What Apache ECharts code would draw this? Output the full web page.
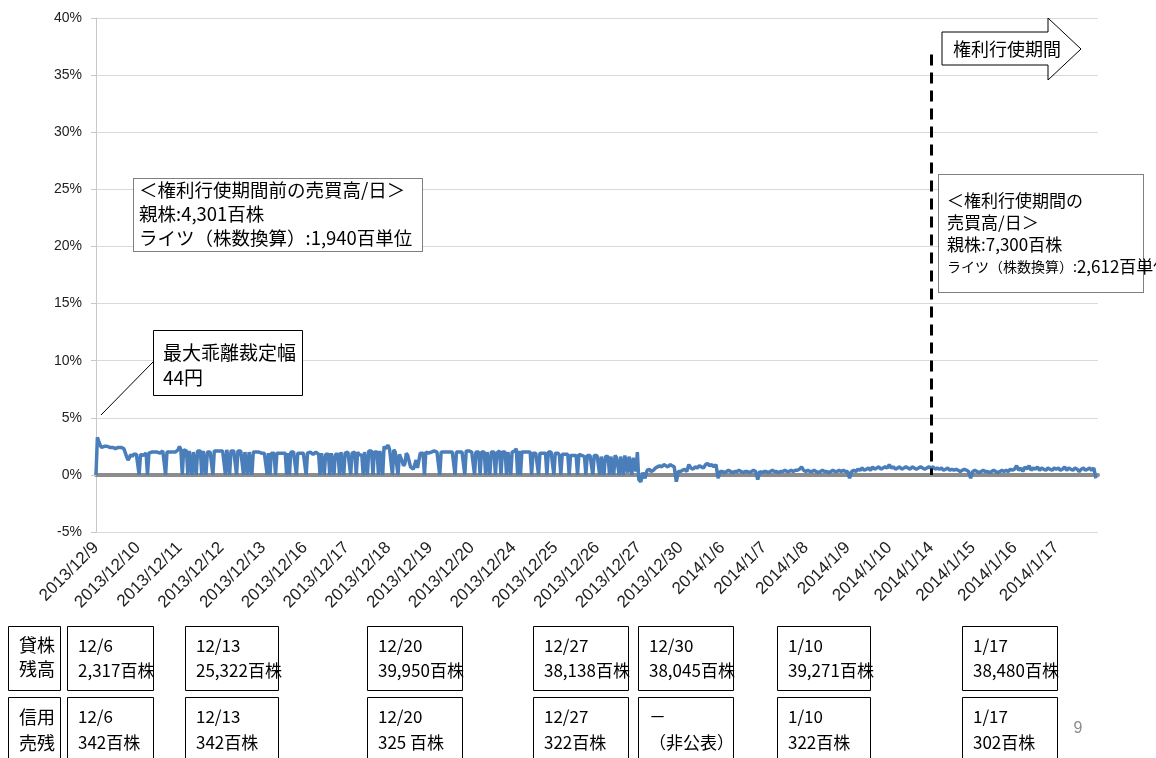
<!DOCTYPE html>
<html>
<head>
<meta charset="utf-8">
<script src="https://cdn.jsdelivr.net/npm/echarts@6/dist/echarts.min.js"></script>
<style>
  html, body { margin: 0; padding: 0; background: #fff; }
  #chart { width: 1156px; height: 758px; }
</style>
</head>
<body>
<div id="chart"></div>
<script>
// Trading days on the horizontal axis
const dayLabels = [
  '2013/12/9', '2013/12/10', '2013/12/11', '2013/12/12', '2013/12/13',
  '2013/12/16', '2013/12/17', '2013/12/18', '2013/12/19', '2013/12/20',
  '2013/12/24', '2013/12/25', '2013/12/26', '2013/12/27', '2013/12/30',
  '2014/1/6', '2014/1/7', '2014/1/8', '2014/1/9', '2014/1/10',
  '2014/1/14', '2014/1/15', '2014/1/16', '2014/1/17'
];

// Intraday premium (%) per trading day, sampled evenly through each session
const premiumByDay = [
  [0, 3.3, 2.9, 2.6, 2.4, 2.5, 2.5, 2.4, 2.5, 2.4, 2.4, 2.5, 2.4, 2.4, 2.3, 2.4, 2.4, 2.3, 2.4, 2.3, 2.3, 2.2, 1.6, 1.3, 1.5, 1.8, 1.6, 1.8, 1.9, 1.8],
  [1.8, 0, 1.8, 1.9, 1.7, 1.8, 1.9, 0, 1.9, 2.0, 2.0, 1.9, 2.0, 2.1, 2.0, 2.0, 1.9, 2.0, 2.1, 2.0, 0, 2.0, 2.1, 2.0, 2.1, 2.0, 2.1, 2.0, 2.1, 2.2],
  [2.5, 2.2, 0, 2.2, 2.1, 2.1, 0, 2.1, 2.0, 0, 2.0, 2.1, 0, 2.1, 2.0, 2.1, 0, 2.1, 2.0, 0, 2.0, 2.1, 2.0, 2.1, 0, 2.1, 2.2, 2.1, 2.0, 2.1],
  [2.2, 2.1, 2.2, 0, 2.2, 2.1, 0, 2.1, 2.2, 2.1, 2.2, 0, 2.1, 2.0, 2.1, 2.0, 0, 2.0, 2.1, 0, 2.0, 2.0, 0, 2.0, 1.9, 2.0, 1.9, 2.0, 2.0, 1.9],
  [2.0, 1.9, 2.0, 0, 1.9, 0, 1.9, 2.0, 1.9, 0, 1.9, 2.0, 1.9, 2.0, 1.9, 2.0, 1.9, 0, 1.9, 0, 2.0, 1.9, 2.0, 1.9, 0, 1.9, 2.0, 1.9, 2.0, 1.9],
  [1.9, 0, 1.9, 1.8, 2.0, 1.9, 1.8, 1.9, 2.0, 1.9, 1.8, 0, 1.9, 1.8, 0, 1.8, 1.9, 1.8, 0, 1.9, 1.8, 0, 1.8, 1.9, 1.8, 0, 2.0, 1.9, 0, 1.9],
  [1.9, 2.0, 1.9, 0, 1.9, 1.8, 2.0, 0, 2.0, 1.8, 1.9, 1.7, 0, 2.0, 1.9, 0, 2.1, 2.0, 2.1, 0, 2.0, 2.1, 2.0, 0, 2.1, 2.0, 0, 2.5, 2.3, 2.2],
  [2.6, 2.2, 2.1, 0, 2.2, 2.0, 1.9, 0, 1.8, 1.9, 1.2, 0.8, 1.0, 1.9, 1.7, 1.6, 0.7, 0.6, 0.5, 0.6, 1.3, 0.6, 0.5, 1.9, 2.0, 1.9, 0, 2.0, 2.0, 1.9],
  [1.9, 2.0, 1.9, 2.1, 2.0, 2.0, 1.9, 0, 2.0, 2.1, 2.0, 1.9, 2.0, 2.1, 2.0, 1.9, 2.0, 2.1, 0, 2.0, 2.1, 2.0, 1.9, 2.0, 2.0, 0, 2.1, 2.0, 2.1, 2.0],
  [2.0, 2.1, 0, 2.0, 2.1, 2.0, 0, 2.0, 2.1, 2.0, 0, 2.0, 1.9, 0, 2.0, 2.1, 2.0, 0, 1.9, 2.0, 2.1, 0, 2.0, 1.9, 2.0, 0, 2.0, 2.1, 0, 2.0],
  [2.0, 2.1, 2.3, 0, 2.1, 0, 2.0, 1.9, 2.0, 1.9, 2.0, 1.9, 2.0, 0, 1.9, 2.0, 1.9, 2.0, 0, 1.9, 2.0, 1.9, 2.0, 1.9, 0, 2.0, 1.9, 2.0, 1.9, 0],
  [1.9, 1.8, 1.9, 1.7, 0, 1.8, 1.7, 1.8, 1.7, 1.8, 0, 1.7, 1.8, 1.7, 1.8, 1.7, 0, 1.8, 1.7, 1.7, 1.8, 1.6, 0, 1.7, 1.8, 1.7, 1.6, 0, 1.7, 1.6],
  [1.7, 1.6, 0, 1.6, 1.7, 0, 1.6, 1.5, 1.6, 0, 1.6, 1.7, 0, 1.7, 1.5, 1.6, 0, 1.6, 1.5, 0, 1.7, 1.6, 0.2, 1.6, 1.7, 0, 1.5, 1.6, 0.3, 2.0],
  [-0.4, -0.6, 0.2, -0.3, 0.4, 0.5, 0.3, 0.4, 0.6, 0.7, 0.8, 0.7, 0.9, 0.8, 0.7, 0.9, 0.8, 0.7, -0.6, 0.3],
  [0.3, 0.4, 0.5, 0.3, 0.9, 0.6, 0.5, 0.7, 0.6, 0.8, 0.7, 0.6, 0.9, 1.0, 0.8, 0.9, 0.7, 0.9, -0.3, 0.3],
  [0.3, 0.2, 0.3, 0.4, 0.3, 0.2, 0.3, 0.3, 0.4, 0.3, 0.2, 0.3, 0.3, 0.2, 0.3, 0.4, 0.3, -0.4, 0.3, 0.2],
  [0.3, 0.3, 0.2, 0.3, 0.4, 0.3, 0.3, 0.2, 0.3, 0.3, 0.4, 0.3, 0.3, 0.4, 0.3, 0.4, 0.4, 0.5, 0.7, 0.4],
  [0.3, 0.4, 0.3, 0.3, 0.4, 0.3, 0.2, 0.3, 0.4, 0.3, 0.3, 0.2, 0.3, 0.4, 0.3, 0.3, 0.4, 0.3, 0.4, 0.3],
  [0.3, -0.3, 0.3, 0.4, 0.3, 0.5, 0.4, 0.6, 0.4, 0.5, 0.6, 0.4, 0.7, 0.5, 0.6, 0.7, 0.5, 0.6, 0.7, 0.6],
  [0.9, 0.6, 0.7, 0.5, 0.6, 0.7, 0.5, 0.6, 0.7, 0.6, 0.5, 0.7, 0.6, 0.5, 0.6, 0.7, 0.6, 0.5, 0.6, 0.7],
  [0.6, 0.7, 0.5, 0.6, 0.5, 0.6, 0.4, 0.5, 0.6, 0.4, 0.5, 0.4, 0.5, 0.4, 0.3, 0.4, 0.5, 0.4, 0.3, -0.3],
  [0.3, 0.4, 0.3, 0.2, 0.3, 0.4, 0.3, 0.3, 0.2, 0.3, 0.4, 0.3, 0.2, 0.3, 0.4, 0.3, 0.4, 0.3, 0.5, 0.4],
  [0.5, 0.8, 0.4, 0.6, 0.3, 0.7, 0.5, 0.8, 0.4, 0.6, 0.5, 0.7, 0.4, 0.6, 0.5, 0.4, 0.6, 0.5, 0.4, 0.6],
  [0.5, 0.6, 0.4, 0.5, 0.7, 0.4, 0.6, 0.5, 0.4, 0.6, 0.5, 0.3, 0.5, 0.6, 0.4, 0.5, 0.6, 0.4, 0.6, -0.3]
];

// Y axis range (%)
const yMin = -5, yMax = 40, yStep = 5;

// Start of the rights-exercise period (index into dayLabels) and the top of its marker (%)
const exerciseStartDay = 20;
const exerciseMarkerTop = 36.8;

// Weekly lending balance and margin short interest
const lendDates = ['12/6', '12/13', '12/20', '12/27', '12/30', '1/10', '1/17'];
const lendBalance = ['2,317百株', '25,322百株', '39,950百株', '38,138百株', '38,045百株', '39,271百株', '38,480百株'];
const shortDates = ['12/6', '12/13', '12/20', '12/27', '－', '1/10', '1/17'];
const shortBalance = ['342百株', '342百株', '325 百株', '322百株', '（非公表）', '322百株', '302百株'];

// Build the line points: x runs in trading-day units
const linePoints = [];
premiumByDay.forEach((samples, d) => {
  samples.forEach((v, k) => linePoints.push([d + k / samples.length, v]));
});

const JP = '"Noto Sans CJK JP", "Noto Sans CJK SC", sans-serif';
const LAT = '"Liberation Sans", Arial, sans-serif';

// Table box layout (left edge, width)
const boxLeft = [67, 185, 367, 533, 638, 777, 962];
const boxWidth = [86, 93, 95, 95, 95, 93, 95];

const graphics = [];
function rect(x, y, w, h, dotted) {
  graphics.push({
    type: 'rect', z: 100,
    shape: { x: x + 0.5, y: y + 0.5, width: w, height: h },
    style: { fill: '#fff', stroke: '#000', lineWidth: 1, lineDash: dotted ? [1, 1] : null }
  });
}
function text(x, y, str, size, lh) {
  graphics.push({
    type: 'text', z: 101, x: x, y: y,
    style: { text: str, fill: '#000', fontSize: size, fontFamily: JP, lineHeight: lh }
  });
}

// Callout for the maximum arbitrage width
graphics.push({ type: 'line', z: 100, shape: { x1: 101, y1: 415, x2: 153, y2: 362 }, style: { stroke: '#000', lineWidth: 1 } });
rect(153, 330, 149, 65, false);
text(163, 340, '最大乖離裁定幅\n44円', 19, 25);

// Trading volume before the exercise period
rect(133, 178, 289, 73, true);
text(139, 178, '＜権利行使期間前の売買高/日＞\n親株:4,301百株\nライツ（株数換算）:1,940百単位', 18.5, 24);

// Trading volume during the exercise period
rect(938, 174, 205, 118, true);
graphics.push({
  type: 'text', z: 101, x: 947, y: 190,
  style: {
    text: '＜権利行使期間の\n売買高/日＞\n親株:7,300百株\n{s|ライツ（株数換算）:}{b|2,612百単位}',
    fill: '#000', fontSize: 17, fontFamily: JP, lineHeight: 22,
    rich: {
      s: { fontSize: 14, fontFamily: JP, fill: '#000', lineHeight: 22 },
      b: { fontSize: 17, fontFamily: JP, fill: '#000', lineHeight: 22 }
    }
  }
});

// Arrow marking the exercise period
graphics.push({
  type: 'polygon', z: 100,
  shape: { points: [[942, 32], [1048, 32], [1048, 18], [1081, 49], [1048, 80], [1048, 65], [942, 65]] },
  style: { fill: '#fff', stroke: '#000', lineWidth: 1 }
});
text(953, 37, '権利行使期間', 18, 24);

// Tables below the chart
rect(8, 626, 52, 64, false);
text(19, 633, '貸株\n残高', 18, 24);
rect(8, 697, 52, 70, false);
text(19, 704, '信用\n売残', 18, 26);
lendDates.forEach((d, i) => {
  rect(boxLeft[i], 626, boxWidth[i], 64, false);
  text(boxLeft[i] + 11, 633, d + '\n' + lendBalance[i], 17, 25);
  rect(boxLeft[i], 697, boxWidth[i], 70, false);
  text(boxLeft[i] + 11, 704, shortDates[i] + '\n' + shortBalance[i], 17, 26);
});

// Page number
graphics.push({
  type: 'text', z: 101, x: 1078, y: 729,
  style: { text: '9', fill: '#8c8c8c', fontSize: 16, fontFamily: LAT, textAlign: 'center', textVerticalAlign: 'middle' }
});

const chart = echarts.init(document.getElementById('chart'), null, { renderer: 'canvas' });
chart.setOption({
  animation: false,
  backgroundColor: '#fff',
  grid: { left: 96, right: 58, top: 18, bottom: 226, containLabel: false },
  xAxis: [
    {
      // zero line
      type: 'value', min: 0, max: dayLabels.length, interval: 1,
      axisLine: { show: true, onZero: true, lineStyle: { color: '#8c8c8c', width: 4 } },
      axisTick: { show: false }, axisLabel: { show: false }, splitLine: { show: false }
    },
    {
      // day labels along the bottom
      type: 'value', position: 'bottom', min: 0, max: dayLabels.length, interval: 1,
      axisLine: { show: false, onZero: false }, axisTick: { show: false }, splitLine: { show: false },
      axisLabel: {
        rotate: 45, margin: 13, color: '#222', fontSize: 17, fontFamily: LAT,
        formatter: v => dayLabels[v] || ''
      }
    }
  ],
  yAxis: {
    type: 'value', min: yMin, max: yMax, interval: yStep,
    axisLine: { show: true, lineStyle: { color: '#c8c8c8', width: 1 } },
    axisTick: { show: true, length: 5, lineStyle: { color: '#c8c8c8' } },
    splitLine: { show: true, lineStyle: { color: '#d9d9d9', width: 1 } },
    axisLabel: { formatter: '{value}%', color: '#222', fontSize: 14, fontFamily: LAT, margin: 14 }
  },
  series: [
    {
      type: 'line', xAxisIndex: 0, data: linePoints, showSymbol: false, symbol: 'none',
      lineStyle: { color: '#4a7ebb', width: 3.5 }, z: 3,
      markLine: {
        silent: true, symbol: 'none', label: { show: false },
        lineStyle: { color: '#000', width: 3, type: [11, 7] },
        data: [[{ coord: [exerciseStartDay, exerciseMarkerTop] }, { coord: [exerciseStartDay, 0] }]]
      }
    }
  ],
  graphic: graphics
});
</script>
</body>
</html>
